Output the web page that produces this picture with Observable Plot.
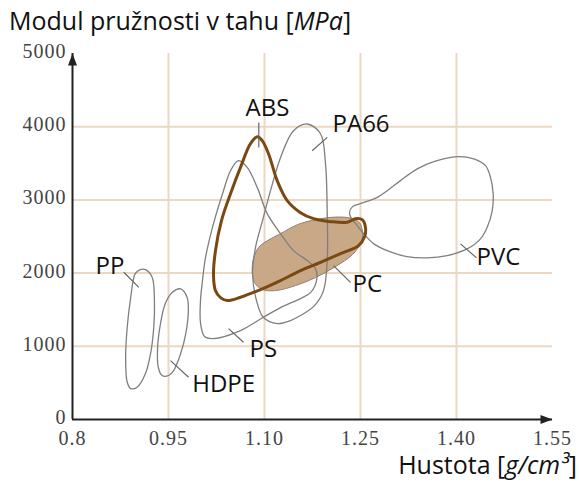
<!DOCTYPE html>
<html>
<head>
<meta charset="utf-8">
<script src="https://cdn.jsdelivr.net/npm/d3@7"></script>
<script src="https://cdn.jsdelivr.net/npm/@observablehq/plot@0.6"></script>
<style>
  html, body { margin: 0; padding: 0; background: #fff; width: 579px; height: 482px; overflow: hidden; }
  #title { font-family: "Open Sans", sans-serif; font-size: 25px; line-height: 40px; height: 40px; padding-left: 9px; color: #111; white-space: nowrap; }
  #xlabel { font-family: "Open Sans", sans-serif; font-size: 25px; line-height: 26px; height: 26px; margin-top: 3px; text-align: right; padding-right: 2px; color: #111; white-space: nowrap; }
  #chart svg { display: block; }
  #chart g[aria-label="y-axis tick label"] text, #chart g[aria-label="x-axis tick label"] text { letter-spacing: 1px; }
</style>
</head>
<body>
<div id="title">Modul pružnosti v tahu [<i>MPa</i>]</div>
<div id="chart"></div>
<div id="xlabel">Hustota [<i>g/cm³</i>]</div>
<script>
// axis ticks
const xTicks = [0.8, 0.95, 1.10, 1.25, 1.40, 1.55];
const xTickLabels = ["0.8", "0.95", "1.10", "1.25", "1.40", "1.55"];
const yTicks = [0, 1000, 2000, 3000, 4000, 5000];
const yTickLabels = ["0", "1000", "2000", "3000", "4000", "5000"];
const xGrid = [0.95, 1.10, 1.25, 1.40];
const yGrid = [1000, 2000, 3000, 4000];

// material regions: [density, modulus]
const PP = [[0.914,2048],[0.9245,1943],[0.928,1625],[0.927,1260],[0.922,901],[0.914,628],[0.901,441],[0.891,423],[0.8855,509],[0.883,851],[0.8855,1260],[0.891,1670],[0.898,1993],[0.906,2048]];
const HDPE = [[0.969,1784],[0.979,1670],[0.981,1488],[0.977,1174],[0.969,901],[0.958,669],[0.95,601],[0.940,601],[0.934,714],[0.933,987],[0.9375,1311],[0.945,1584],[0.956,1738]];
const PS = [[1.0594,3536],[1.073,3444],[1.0886,3171],[1.1042,2812],[1.125,2539],[1.1453,2307],[1.1667,2171],[1.1797,2061],[1.1813,1898],[1.1719,1734],[1.1563,1652],[1.125,1529],[1.0984,1397],[1.0625,1215],[1.0203,1106],[1.0063,1133],[1.0,1324],[1.0,1625],[1.0031,1898],[1.0078,2212],[1.0203,2676],[1.0359,3126],[1.0469,3399]];
const PA66 = [[1.1667,4037],[1.1875,3904],[1.1953,3495],[1.198,2812],[1.198,2171],[1.1922,1761],[1.1781,1556],[1.1563,1420],[1.1406,1352],[1.1203,1311],[1.0984,1393],[1.0875,1625],[1.0813,1993],[1.0859,2348],[1.0969,2717],[1.1094,3126],[1.125,3577],[1.1453,3945]];
const ABS = [[1.0891,3864],[1.0964,3809],[1.1063,3631],[1.1198,3263],[1.1355,2990],[1.1563,2826],[1.1766,2744],[1.2031,2703],[1.2292,2694],[1.2422,2744],[1.2527,2730],[1.2578,2621],[1.2563,2498],[1.2469,2375],[1.2188,2266],[1.1875,2147],[1.1563,2034],[1.125,1898],[1.0938,1775],[1.0625,1670],[1.0422,1625],[1.0313,1666],[1.0234,1761],[1.0203,1966],[1.0234,2307],[1.0328,2717],[1.0469,3085],[1.0625,3444],[1.0781,3768]];
const PC = [[1.0808,2034],[1.0828,2198],[1.0906,2348],[1.1047,2444],[1.125,2539],[1.1516,2662],[1.1797,2730],[1.2109,2765],[1.2344,2751],[1.2484,2689],[1.2531,2567],[1.2516,2430],[1.2375,2253],[1.2109,2089],[1.1797,1939],[1.1484,1829],[1.1172,1761],[1.0969,1775],[1.0844,1870]];
const PVC = [[1.2328,2826],[1.2375,2908],[1.25,2949],[1.2761,3035],[1.2917,3126],[1.3125,3263],[1.3386,3423],[1.3645,3522],[1.4011,3590],[1.427,3559],[1.4453,3468],[1.4531,3308],[1.4573,3081],[1.4558,2853],[1.448,2625],[1.4375,2467],[1.4167,2330],[1.3855,2239],[1.3542,2208],[1.323,2225],[1.2917,2307],[1.2708,2399],[1.2552,2535],[1.2438,2662],[1.2359,2744]];

// labels and leader lines
const labelNames = ["ABS", "PA66", "PC", "PVC", "PP", "HDPE", "PS"];
const labelX = [1.0703, 1.2063, 1.2375, 1.4313, 0.8359, 0.987, 1.0766];
const labelY = [4253, 4027, 1843, 2212, 2089, 478, 956];
const leaderX1 = [1.0911, 1.1745, 1.2078, 1.4063, 0.8802, 0.9531, 1.0438];
const leaderY1 = [4059, 3672, 2102, 2399, 2011, 805, 1242];
const leaderX2 = [1.0911, 1.1980, 1.2344, 1.4313, 0.9036, 0.9813, 1.0672];
const leaderY2 = [3717, 3854, 1874, 2208, 1806, 577, 1055];

const idx = labelNames.map((_, i) => i);
const px = d => d[0], py = d => d[1];
const grey = "#7f7f7f";

const arrowHead = {
  draw(context, size) {
    context.moveTo(0, 0);
    context.lineTo(-12, -4.5);
    context.lineTo(-12, 4.5);
    context.closePath();
  }
};

const chart = Plot.plot({
  width: 579,
  height: 408,
  marginTop: 13,
  marginBottom: 29,
  marginLeft: 72,
  marginRight: 27,
  style: { fontFamily: "Liberation Serif, serif", fontSize: "20px", color: "#444", background: "white" },
  x: { domain: [0.8, 1.55], axis: null },
  y: { domain: [0, 5000], axis: null },
  marks: [
    Plot.gridX(xGrid, { stroke: "#ead8c3", strokeOpacity: 1, strokeWidth: 2 }),
    Plot.gridY(yGrid, { stroke: "#ead8c3", strokeOpacity: 1, strokeWidth: 2 }),
    Plot.line(PC, { x: px, y: py, curve: "catmull-rom-closed", fill: "#c8a887", stroke: "#8f8070", strokeWidth: 1 }),
    Plot.line(PP, { x: px, y: py, curve: "catmull-rom-closed", stroke: grey, strokeWidth: 1.3 }),
    Plot.line(HDPE, { x: px, y: py, curve: "catmull-rom-closed", stroke: grey, strokeWidth: 1.3 }),
    Plot.line(PS, { x: px, y: py, curve: "catmull-rom-closed", stroke: grey, strokeWidth: 1.3 }),
    Plot.line(PA66, { x: px, y: py, curve: "catmull-rom-closed", stroke: grey, strokeWidth: 1.3 }),
    Plot.line(PVC, { x: px, y: py, curve: "catmull-rom-closed", stroke: grey, strokeWidth: 1.3 }),
    Plot.line(ABS, { x: px, y: py, curve: "catmull-rom-closed", stroke: "#7a4912", strokeWidth: 3 }),
    Plot.link(idx, { x1: i => leaderX1[i], y1: i => leaderY1[i], x2: i => leaderX2[i], y2: i => leaderY2[i], stroke: "#666", strokeWidth: 1.2 }),
    Plot.text(idx, { x: i => labelX[i], y: i => labelY[i], text: i => labelNames[i], textAnchor: "start", fontFamily: "Open Sans, sans-serif", fontSize: 24, fill: "#111" }),
    Plot.ruleY([0], { x1: xTicks[0], x2: xTicks[xTicks.length - 1], stroke: "#222", strokeWidth: 2 }),
    Plot.ruleX([xTicks[0]], { y1: yTicks[0], y2: yTicks[yTicks.length - 1], stroke: "#222", strokeWidth: 2 }),
    Plot.dot([[xTicks[xTicks.length - 1], 0]], { x: px, y: py, symbol: arrowHead, r: 5, fill: "#222", stroke: null, rotate: 0 }),
    Plot.dot([[xTicks[0], yTicks[yTicks.length - 1]]], { x: px, y: py, symbol: arrowHead, r: 5, fill: "#222", stroke: null, rotate: -90 }),
    Plot.axisX(xTicks, { tickSize: 0, tickPadding: 11, tickFormat: (d, i) => xTickLabels[i], fill: "#444", fontSize: 20 }),
    Plot.axisY(yTicks, { tickSize: 0, tickPadding: 6, dy: -2, tickFormat: (d, i) => yTickLabels[i], fill: "#444", fontSize: 20 })
  ]
});
document.getElementById("chart").appendChild(chart);
</script>
</body>
</html>
